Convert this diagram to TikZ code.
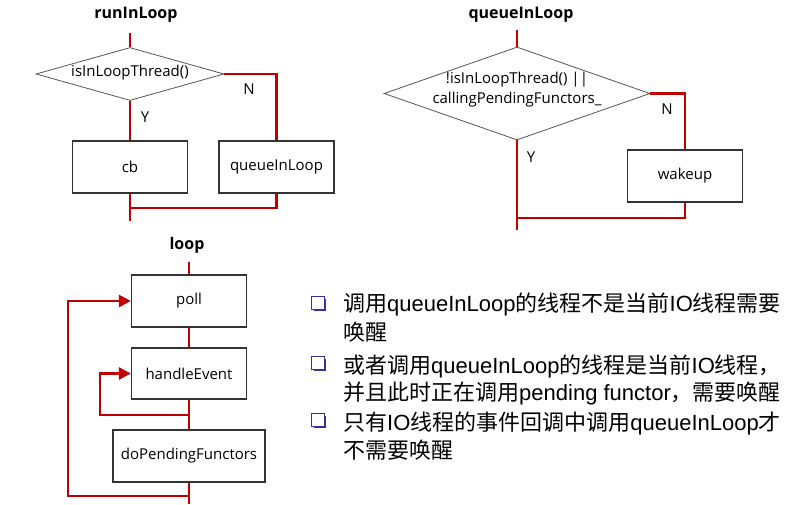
\documentclass[tikz,border=0pt]{standalone}
\usepackage{fontspec}
\setmainfont{Open Sans}
\newfontfamily\cjk{Noto Sans CJK SC}
\newfontfamily\lat{Liberation Sans}
\usetikzlibrary{shapes.geometric,arrows.meta,shadows}
\definecolor{rl}{HTML}{C00000}
\definecolor{boxc}{HTML}{333333}
\definecolor{diac}{HTML}{555555}
\definecolor{bulc}{HTML}{33339A}
\begin{document}
\begin{tikzpicture}[x=1pt,y=-1pt,
  wire/.style={draw=rl,line width=2.6pt},
  tip/.style={-{Triangle[length=12pt,width=12pt]}},
  box/.style={draw=boxc,line width=1.3pt,fill=white,minimum width=115pt,minimum height=52pt,inner sep=0pt,font=\fontsize{15}{17}\selectfont},
  dia/.style={draw=diac,line width=0.8pt,diamond,inner sep=0pt},
  lbl/.style={font=\fontsize{15}{20}\selectfont,inner sep=0pt},
  ttl/.style={font=\bfseries\fontsize{16}{18}\selectfont,inner sep=0pt},
  bul/.style={draw=bulc,line width=1.2pt,fill=white,minimum size=12.5pt,inner sep=0pt,
    drop shadow={shadow xshift=2pt,shadow yshift=-2pt,fill=bulc,opacity=1}},
  btxt/.style={anchor=base west,inner sep=0pt,font=\lat\fontsize{22}{26}\selectfont}
]
\useasboundingbox (0,0) rectangle (810,504);
\fill[white] (0,0) rectangle (810,504);

% ---------- runInLoop ----------
\node[ttl] (t1) at (136,15) {runInLoop};
\coordinate (s1) at (130,33);
\node[dia,minimum width=188pt,minimum height=53pt] (d1) at (130,74) {};
\node[lbl] (d1t) at (130,73) {isInLoopThread()};
\node[box] (cb) at (130,167) {cb};
\node[box] (qil) at (276.5,167) {queueInLoop};
\coordinate (e1) at (130,221);
\coordinate (j1) at (130,208);
\draw[wire] (s1) -- (d1.north);
\draw[wire] (d1.east) -| (qil.north);
\draw[wire] (d1.south) -- (cb.north);
\draw[wire] (cb.south) -- (e1);
\draw[wire] (qil.south) |- (j1);
\node[lbl] (n1) at (249,89) {N};
\node[lbl] (y1) at (145,117) {Y};

% ---------- queueInLoop ----------
\node[ttl] (t2) at (521,15) {queueInLoop};
\coordinate (s2) at (517,30);
\node[dia,minimum width=266pt,minimum height=93pt] (d2) at (517,93.5) {};
\node[lbl,align=center] (d2t) at (517,90) {!isInLoopThread() ||\\callingPendingFunctors\_};
\node[box] (wk) at (685,176) {wakeup};
\coordinate (e2) at (517,230);
\coordinate (j2) at (517,218);
\draw[wire] (s2) -- (d2.north);
\draw[wire] (d2.east) -| (wk.north);
\draw[wire] (d2.south) -- (e2);
\draw[wire] (wk.south) |- (j2);
\node[lbl] (n2) at (667,109) {N};
\node[lbl] (y2) at (531,157) {Y};

% ---------- loop ----------
\node[ttl] (t3) at (187,245) {loop};
\coordinate (s3) at (189,262);
\node[box] (poll) at (189,301) {poll};
\node[box,minimum height=51pt] (he) at (189,373.5) {handleEvent};
\node[box,minimum width=152pt] (dp) at (189,456) {doPendingFunctors};
\coordinate (e3) at (189,504);
\coordinate (b1) at (189,415);
\coordinate (l1) at (100,415);
\coordinate (b2) at (189,496);
\coordinate (l2) at (68,496);
\draw[wire] (s3) -- (poll.north);
\draw[wire] (poll.south) -- (he.north);
\draw[wire] (he.south) -- (dp.north);
\draw[wire] (dp.south) -- (e3);
\draw[wire,tip] (b1) -- (l1) |- (he.west);
\draw[wire,tip] (b2) -- (l2) |- (poll.west);

% ---------- bullets ----------
\node[bul] (q1) at (318,303) {};
\node[bul] (q2) at (318,363) {};
\node[bul] (q3) at (318,420) {};
\node[btxt] (x1) at (343,311) {{\cjk 调用}queueInLoop{\cjk 的线程不是当前}IO{\cjk 线程需要}};
\node[btxt] (x2) at (343,340) {{\cjk 唤醒}};
\node[btxt] (x3) at (343,373) {{\cjk 或者调用}queueInLoop{\cjk 的线程是当前}IO{\cjk 线程，}};
\node[btxt] (x4) at (343,400) {{\cjk 并且此时正在调用}pending functor{\cjk ，需要唤醒}};
\node[btxt] (x5) at (343,430) {{\cjk 只有}IO{\cjk 线程的事件回调中调用}queueInLoop{\cjk 才}};
\node[btxt] (x6) at (343,458) {{\cjk 不需要唤醒}};
\end{tikzpicture}
\end{document}
